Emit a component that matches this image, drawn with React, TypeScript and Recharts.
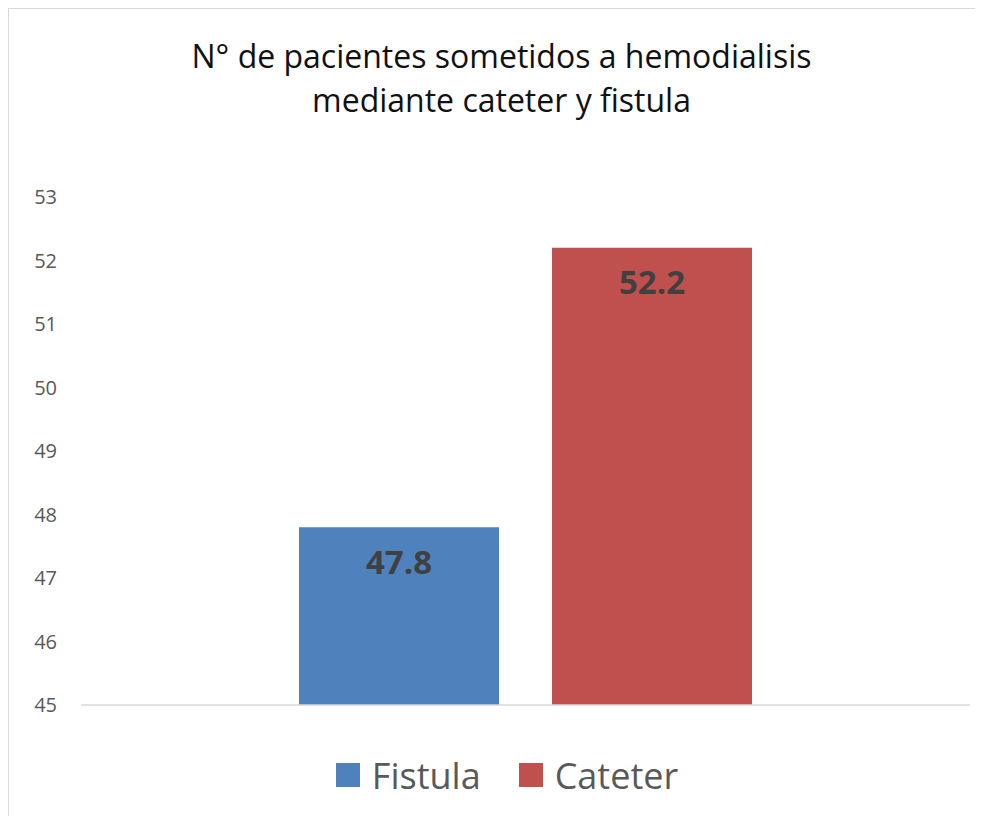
import { Bar, BarChart, LabelList, Legend, XAxis, YAxis } from 'recharts'

const categories = ['Pacientes']
const fistulaValues = [47.8]
const cateterValues = [52.2]
const yTicks = [45, 46, 47, 48, 49, 50, 51, 52, 53]

const seriesList = [
  { key: 'Fistula', color: '#4F81BD', values: fistulaValues },
  { key: 'Cateter', color: '#C0504D', values: cateterValues },
]

const data = categories.map((name, i) => ({
  name,
  Fistula: fistulaValues[i],
  Cateter: cateterValues[i],
}))

const FONT = "'Open Sans', sans-serif"

function LegendContent() {
  return (
    <div
      style={{
        display: 'flex',
        justifyContent: 'center',
        alignItems: 'center',
        height: 42,
        paddingLeft: 26,
        fontFamily: FONT,
        fontSize: 36,
        color: '#595959',
      }}
    >
      {seriesList.map((s, i) => (
        <div
          key={s.key}
          style={{ display: 'flex', alignItems: 'center', marginLeft: i === 0 ? 0 : 38 }}
        >
          <span style={{ width: 24, height: 24, background: s.color, marginRight: 12 }} />
          <span>{s.key}</span>
        </div>
      ))}
    </div>
  )
}

export default function App() {
  return (
    <div
      style={{
        position: 'relative',
        width: 970,
        height: 808,
        border: '1px solid #d9d9d9',
        background: '#fff',
      }}
    >
      <div
        style={{
          position: 'absolute',
          top: 25,
          left: 0,
          width: 985,
          textAlign: 'center',
          fontFamily: FONT,
          fontSize: 32,
          lineHeight: '44px',
          color: '#111',
          zIndex: 2,
        }}
      >
        N° de pacientes sometidos a hemodialisis
        <br />
        mediante cateter y fistula
      </div>
      <BarChart
        width={970}
        height={808}
        data={data}
        margin={{ top: 188, right: 9, bottom: 69, left: 0 }}
        barGap={53}
      >
        <XAxis
          dataKey='name'
          tick={false}
          tickLine={false}
          axisLine={{ stroke: '#d9d9d9', strokeWidth: 1.5 }}
          height={1}
        />
        <YAxis
          width={72}
          domain={[45, 53]}
          ticks={yTicks}
          allowDataOverflow
          axisLine={false}
          tickLine={false}
          tickSize={0}
          tickMargin={24}
          tick={{ fill: '#595959', fontSize: 20, fontFamily: FONT }}
        />
        <Legend
          verticalAlign='bottom'
          content={<LegendContent />}
          wrapperStyle={{ top: 745, left: 0, width: 970, bottom: 'auto' }}
        />
        {seriesList.map((s) => (
          <Bar
            key={s.key}
            dataKey={s.key}
            fill={s.color}
            barSize={200}
            isAnimationActive={false}
          >
            <LabelList
              dataKey={s.key}
              position='insideTop'
              offset={23}
              fill='#404040'
              fontSize={33}
              fontWeight={700}
              fontFamily={FONT}
            />
          </Bar>
        ))}
      </BarChart>
    </div>
  )
}
